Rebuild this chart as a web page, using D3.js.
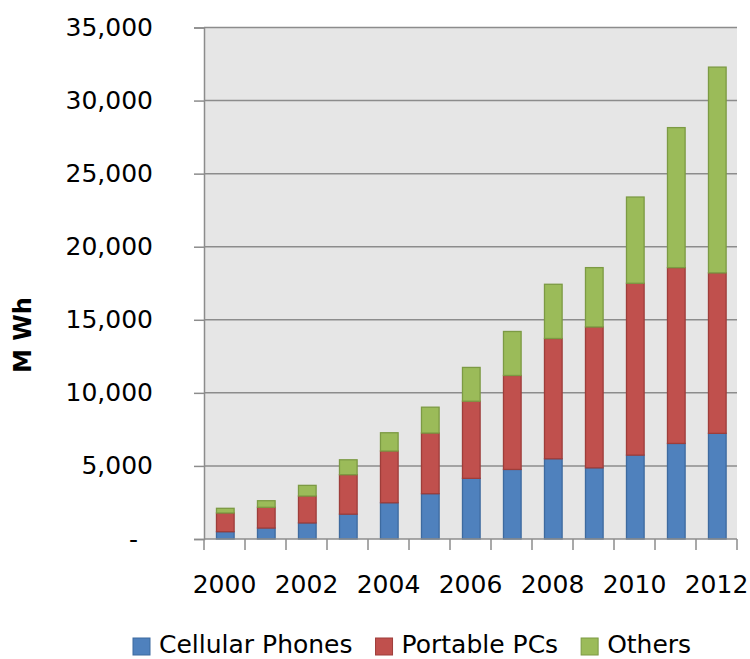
<!DOCTYPE html>
<html>
<head>
<meta charset="utf-8">
<script src="https://cdn.jsdelivr.net/npm/d3@7"></script>
<style>
  html, body { margin: 0; padding: 0; background: #ffffff; }
  svg { display: block; }
  text { font-family: "DejaVu Sans", sans-serif; fill: #000; }
</style>
</head>
<body>
<svg id="chart" width="750" height="659"></svg>
<script>
// Battery energy demand by application, million Wh
const years = ["2000","2001","2002","2003","2004","2005","2006","2007","2008","2009","2010","2011","2012"];
const cellularPhones = [500, 750, 1100, 1700, 2480, 3100, 4150, 4760, 5490, 4870, 5740, 6540, 7230];
const portablePCs   = [1280, 1420, 1840, 2700, 3540, 4150, 5280, 6430, 8230, 9640, 11760, 12030, 10980];
const others        = [320, 450, 730, 1020, 1250, 1770, 2310, 3010, 3710, 4060, 5900, 9580, 14080];
const seriesNames = ["Cellular Phones", "Portable PCs", "Others"];
const yTicks = [0, 5000, 10000, 15000, 20000, 25000, 30000, 35000];
const xLabels = ["2000","2002","2004","2006","2008","2010","2012"];
const yTitle = "M Wh";

const fills   = ["#4f81bd", "#c0504d", "#9bbb59"];
const strokes = ["#3d6a9f", "#9e3d3a", "#7c9a43"];

const svg = d3.select("#chart");
const plot = { left: 204, right: 737, top: 27.5, bottom: 539 };

const x = d3.scaleBand().domain(years).range([plot.left, plot.right]).padding(0);
const y = d3.scaleLinear().domain([0, 35000]).range([plot.bottom, plot.top]);
const barW = x.bandwidth() * 0.43;

// plot background
svg.append("rect")
  .attr("x", plot.left).attr("y", plot.top)
  .attr("width", plot.right - plot.left).attr("height", plot.bottom - plot.top)
  .attr("fill", "#e6e6e6");

// horizontal gridlines
svg.append("g").selectAll("line")
  .data(yTicks.filter(d => d > 0))
  .join("line")
  .attr("x1", plot.left).attr("x2", plot.right)
  .attr("y1", d => y(d)).attr("y2", d => y(d))
  .attr("stroke", "#8c8c8c").attr("stroke-width", 1.5);

// stacked bars
const rows = years.map((yr, i) => ({ year: yr, c: cellularPhones[i], p: portablePCs[i], o: others[i] }));
const stack = d3.stack().keys(["c", "p", "o"])(rows);

svg.append("g").selectAll("g")
  .data(stack)
  .join("g")
  .attr("fill", (d, i) => fills[i])
  .attr("stroke", (d, i) => strokes[i])
  .attr("stroke-width", 1.3)
  .selectAll("rect")
  .data(d => d)
  .join("rect")
  .attr("x", d => x(d.data.year) + (x.bandwidth() - barW) / 2 + 0.8)
  .attr("width", barW)
  .attr("y", d => y(d[1]))
  .attr("height", d => y(d[0]) - y(d[1]));

// y axis
const yAxis = d3.axisLeft(y)
  .tickValues(yTicks)
  .tickSize(10)
  .tickPadding(41)
  .tickFormat(d => d === 0 ? "-" : d3.format(",")(d));
const gy = svg.append("g").attr("transform", `translate(${plot.left},0)`).call(yAxis);
gy.select(".domain").attr("stroke", "#8c8c8c").attr("stroke-width", 1.5);
gy.selectAll(".tick line").attr("stroke", "#8c8c8c").attr("stroke-width", 1.5);
gy.selectAll(".tick text")
  .style("font-family", "'DejaVu Sans', sans-serif")
  .style("font-size", "25px")
  .attr("fill", "#000")
  .attr("dx", d => d === 0 ? -15 : 0);

// x axis: ticks at band boundaries, labels on every other year
const bounds = years.map(d => x(d)).concat([plot.right]);
svg.append("line")
  .attr("x1", plot.left).attr("x2", plot.right)
  .attr("y1", plot.bottom).attr("y2", plot.bottom)
  .attr("stroke", "#8c8c8c").attr("stroke-width", 1.5);
svg.append("g").selectAll("line")
  .data(bounds)
  .join("line")
  .attr("x1", d => d).attr("x2", d => d)
  .attr("y1", plot.bottom).attr("y2", plot.bottom + 11)
  .attr("stroke", "#8c8c8c").attr("stroke-width", 1.5);
svg.append("g").selectAll("text")
  .data(xLabels)
  .join("text")
  .attr("x", d => x(d) + x.bandwidth() / 2)
  .attr("y", 593)
  .attr("text-anchor", "middle")
  .style("font-size", "25px")
  .text(d => d);

// y axis title
svg.append("text")
  .attr("transform", "translate(31,335) rotate(-90)")
  .attr("text-anchor", "middle")
  .style("font-size", "24px")
  .style("font-weight", "bold")
  .text(yTitle);

// legend
const legend = svg.append("g");
let lx = 133;
seriesNames.forEach((name, i) => {
  legend.append("rect")
    .attr("x", lx).attr("y", 638)
    .attr("width", 17).attr("height", 17)
    .attr("fill", fills[i]).attr("stroke", strokes[i]).attr("stroke-width", 1);
  const t = legend.append("text")
    .attr("x", lx + 26).attr("y", 653)
    .style("font-size", "25px")
    .text(name);
  lx += 26 + t.node().getComputedTextLength() + 23;
});
</script>
</body>
</html>
